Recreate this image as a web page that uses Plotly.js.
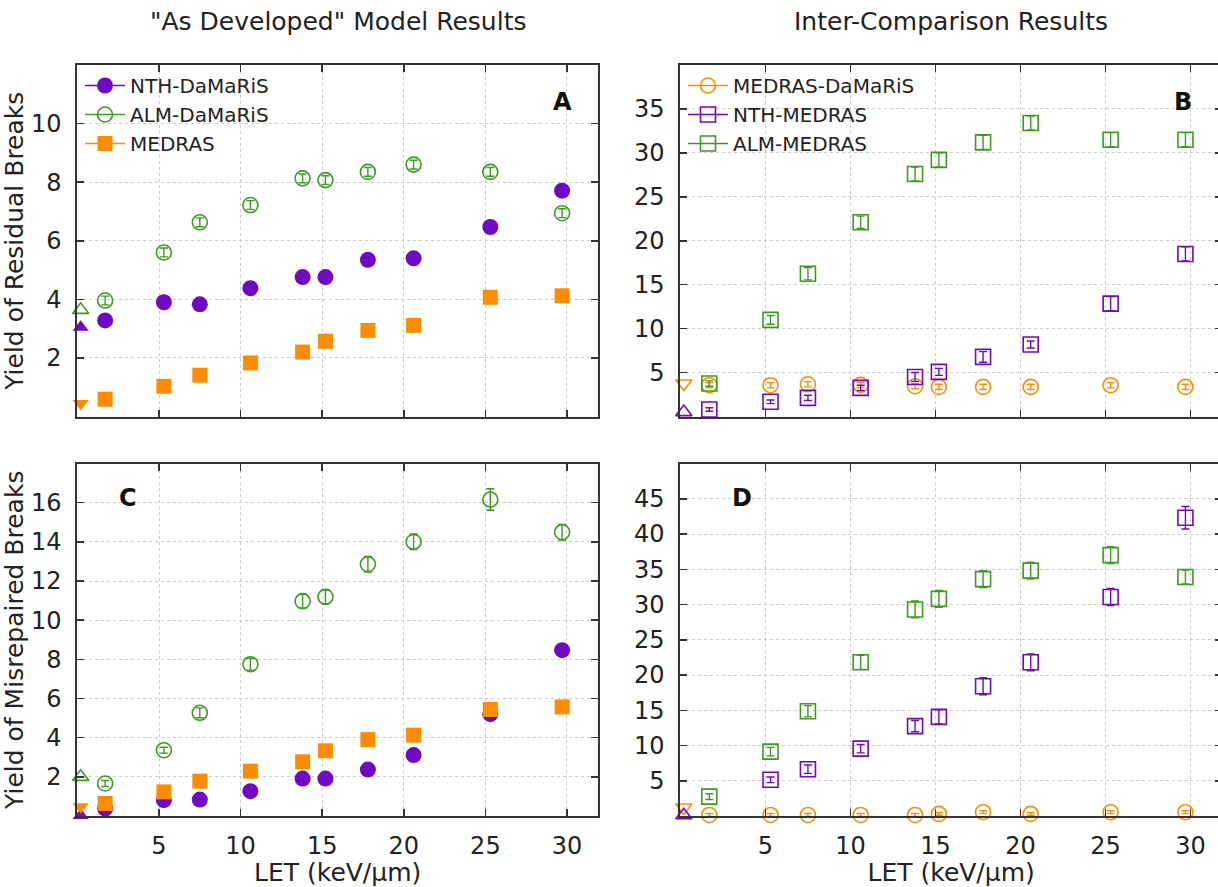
<!DOCTYPE html>
<html>
<head>
<meta charset="utf-8">
<script src="https://cdn.plot.ly/plotly-3.0.1.min.js"></script>
<style>
html,body{margin:0;padding:0;overflow:hidden;background:#fff;}
#chart{width:1230px;height:887px;}
</style>
</head>
<body>
<div id="chart"></div>
<script>
// ---------- data ----------
const LET = [1.7, 5.3, 7.5, 10.6, 13.8, 15.2, 17.8, 20.6, 25.3, 29.7];
const refLET = [0.2];

// Panel A: yield of residual breaks
const nthDamA = [3.28, 3.90, 3.83, 4.38, 4.76, 4.76, 5.35, 5.40, 6.47, 7.71];
const nthDamAErr = [0.08, 0.08, 0.08, 0.08, 0.08, 0.08, 0.08, 0.08, 0.08, 0.08];
const almDamA = [3.96, 5.60, 6.63, 7.22, 8.13, 8.07, 8.35, 8.60, 8.35, 6.94];
const almDamAErr = [0.15, 0.15, 0.15, 0.15, 0.15, 0.15, 0.15, 0.15, 0.15, 0.15];
const medrasA = [0.59, 1.03, 1.41, 1.83, 2.20, 2.57, 2.94, 3.11, 4.07, 4.12];
const medrasAErr = [0.05, 0.05, 0.05, 0.05, 0.05, 0.05, 0.05, 0.05, 0.05, 0.05];
const refA_nth = [3.05], refA_alm = [3.64], refA_med = [0.44];

// Panel B: inter-comparison residual breaks
const medDamB = [3.56, 3.56, 3.67, 3.60, 3.45, 3.37, 3.37, 3.37, 3.56, 3.37];
const medDamBErr = [0.3, 0.3, 0.3, 0.3, 0.3, 0.3, 0.3, 0.3, 0.3, 0.3];
const nthMedB = [0.80, 1.67, 2.12, 3.26, 4.50, 5.08, 6.78, 8.20, 12.84, 18.5];
const nthMedBErr = [0.2, 0.2, 0.3, 0.3, 0.5, 0.4, 0.6, 0.4, 0.8, 0.8];
const almMedB = [3.75, 11.0, 16.25, 22.1, 27.6, 29.2, 31.2, 33.4, 31.5, 31.5];
const almMedBErr = [0.3, 0.5, 0.7, 0.7, 0.8, 0.8, 0.8, 0.8, 0.8, 0.8];
const refB_med = [3.75], refB_nth = [0.5];

// Panel C: yield of misrepaired breaks
const nthDamC = [0.38, 0.81, 0.84, 1.27, 1.91, 1.91, 2.37, 3.11, 5.20, 8.47];
const nthDamCErr = [0.05, 0.05, 0.05, 0.05, 0.05, 0.05, 0.05, 0.05, 0.1, 0.1];
const almDamC = [1.66, 3.36, 5.27, 7.75, 10.97, 11.19, 12.86, 14.0, 16.16, 14.49];
const almDamCErr = [0.15, 0.15, 0.25, 0.3, 0.35, 0.35, 0.4, 0.4, 0.55, 0.4];
const medrasC = [0.64, 1.23, 1.78, 2.29, 2.77, 3.33, 3.90, 4.13, 5.44, 5.57];
const medrasCErr = [0.05, 0.05, 0.05, 0.05, 0.05, 0.05, 0.05, 0.05, 0.05, 0.05];
const refC_nth = [0.03], refC_alm = [2.0], refC_med = [0.47];

// Panel D: inter-comparison misrepaired breaks
const medDamD = [0.15, 0.15, 0.15, 0.15, 0.15, 0.30, 0.54, 0.30, 0.54, 0.54];
const medDamDErr = [0.2, 0.2, 0.2, 0.2, 0.2, 0.2, 0.2, 0.2, 0.2, 0.2];
const nthMedD = [null, 5.14, 6.64, 9.55, 12.75, 14.06, 18.4, 21.8, 31.06, 42.3];
const nthMedDErr = [0, 0.4, 0.6, 0.6, 0.8, 1.0, 1.2, 1.2, 1.2, 1.6];
const almMedD = [2.75, 9.13, 14.86, 21.8, 29.3, 30.8, 33.6, 34.8, 37.0, 33.9];
const almMedDErr = [0.4, 0.6, 0.8, 1.0, 1.2, 1.2, 1.2, 1.2, 1.2, 1.0];
const refD_med = [1.2], refD_nth = [0.1];

const xTicks = [5, 10, 15, 20, 25, 30];
const yTicksA = [2, 4, 6, 8, 10];
const yTicksB = [5, 10, 15, 20, 25, 30, 35];
const yTicksC = [2, 4, 6, 8, 10, 12, 14, 16];
const yTicksD = [5, 10, 15, 20, 25, 30, 35, 40, 45];

const legendA = ['NTH-DaMaRiS', 'ALM-DaMaRiS', 'MEDRAS'];
const legendB = ['MEDRAS-DaMaRiS', 'NTH-MEDRAS', 'ALM-MEDRAS'];

// ---------- style ----------
const PURPLE = '#7008c4', GREEN = '#3d9a22', ORANGE = '#ff8c00';
const FONT = 'DejaVu Sans, sans-serif';
const W = 1230, H = 887;
function dX(l, r) { return [l / W, r / W]; }
function dY(top, bottom) { return [(H - bottom) / H, (H - top) / H]; }

function pts(x, y, err, xa, ya, color, symbol, size) {
  const open = symbol.indexOf('open') >= 0;
  return {
    type: 'scatter', mode: 'markers', x: x, y: y, xaxis: xa, yaxis: ya,
    showlegend: false, cliponaxis: false,
    marker: { symbol: symbol, size: size, color: color, line: { color: color, width: open ? 1.6 : 0 } },
    error_y: err ? { type: 'data', array: err, visible: true, color: color, thickness: 1.4, width: 4 } : { visible: false }
  };
}
function leg(name, color, symbol, size, legendId) {
  const open = symbol.indexOf('open') >= 0;
  return {
    type: 'scatter', mode: 'lines+markers', x: [null], y: [null], name: name,
    xaxis: 'x', yaxis: 'y', legend: legendId, showlegend: true,
    line: { color: color, width: 1.6 },
    marker: { symbol: symbol, size: size, color: color, line: { color: color, width: open ? 1.6 : 0 } }
  };
}

const traces = [
  // Panel A
  pts(LET, nthDamA, nthDamAErr, 'x', 'y', PURPLE, 'circle', 16),
  pts(LET, almDamA, almDamAErr, 'x', 'y', GREEN, 'circle-open', 15),
  pts(LET, medrasA, medrasAErr, 'x', 'y', ORANGE, 'square', 15),
  pts(refLET, refA_nth, null, 'x', 'y', PURPLE, 'triangle-up', 14),
  pts(refLET, refA_alm, null, 'x', 'y', GREEN, 'triangle-up-open', 14),
  pts(refLET, refA_med, null, 'x', 'y', ORANGE, 'triangle-down', 14),
  // Panel B
  pts(LET, medDamB, medDamBErr, 'x2', 'y2', ORANGE, 'circle-open', 15),
  pts(LET, nthMedB, nthMedBErr, 'x2', 'y2', PURPLE, 'square-open', 15),
  pts(LET, almMedB, almMedBErr, 'x2', 'y2', GREEN, 'square-open', 15),
  pts(refLET, refB_med, null, 'x2', 'y2', ORANGE, 'triangle-down-open', 14),
  pts(refLET, refB_nth, null, 'x2', 'y2', PURPLE, 'triangle-up-open', 14),
  // Panel C
  pts(LET, nthDamC, nthDamCErr, 'x3', 'y3', PURPLE, 'circle', 16),
  pts(LET, almDamC, almDamCErr, 'x3', 'y3', GREEN, 'circle-open', 15),
  pts(LET, medrasC, medrasCErr, 'x3', 'y3', ORANGE, 'square', 15),
  pts(refLET, refC_nth, null, 'x3', 'y3', PURPLE, 'triangle-up', 14),
  pts(refLET, refC_alm, null, 'x3', 'y3', GREEN, 'triangle-up-open', 14),
  pts(refLET, refC_med, null, 'x3', 'y3', ORANGE, 'triangle-down', 14),
  // Panel D
  pts(LET, medDamD, medDamDErr, 'x4', 'y4', ORANGE, 'circle-open', 15),
  pts(LET, nthMedD, nthMedDErr, 'x4', 'y4', PURPLE, 'square-open', 15),
  pts(LET, almMedD, almMedDErr, 'x4', 'y4', GREEN, 'square-open', 15),
  pts(refLET, refD_med, null, 'x4', 'y4', ORANGE, 'triangle-down-open', 14),
  pts(refLET, refD_nth, null, 'x4', 'y4', PURPLE, 'triangle-up-open', 14),
  // legend entries
  leg(legendA[0], PURPLE, 'circle', 16, 'legend'),
  leg(legendA[1], GREEN, 'circle-open', 15, 'legend'),
  leg(legendA[2], ORANGE, 'square', 15, 'legend'),
  leg(legendB[0], ORANGE, 'circle-open', 15, 'legend2'),
  leg(legendB[1], PURPLE, 'square-open', 15, 'legend2'),
  leg(legendB[2], GREEN, 'square-open', 15, 'legend2')
];

function xAxis(domain, range, anchor, showLabels) {
  return {
    domain: domain, range: range, anchor: anchor, autorange: false,
    tickmode: 'array', tickvals: xTicks, ticktext: xTicks.map(String),
    showticklabels: showLabels, ticks: 'inside', ticklen: 7, tickwidth: 1.5, tickcolor: '#333',
    showline: true, linecolor: '#333', linewidth: 2, mirror: 'ticks',
    showgrid: true, gridcolor: '#cccccc', griddash: 'dot', gridwidth: 1,
    zeroline: false, ticklabelstandoff: 7,
    tickfont: { family: FONT, size: 24, color: '#222' },
    title: showLabels ? { text: 'LET (keV/µm)', font: { family: FONT, size: 25, color: '#222' }, standoff: 2 } : { text: '' }
  };
}
function yAxis(domain, range, anchor, ticks, title) {
  return {
    domain: domain, range: range, anchor: anchor, autorange: false,
    tickmode: 'array', tickvals: ticks, ticktext: ticks.map(String),
    ticks: 'inside', ticklen: 7, tickwidth: 1.5, tickcolor: '#333',
    showline: true, linecolor: '#333', linewidth: 2, mirror: 'ticks',
    showgrid: true, gridcolor: '#cccccc', griddash: 'dot', gridwidth: 1,
    zeroline: false, ticklabelstandoff: 9,
    tickfont: { family: FONT, size: 24, color: '#222' },
    title: title ? { text: title, font: { family: FONT, size: 25, color: '#222' }, standoff: 2 } : { text: '' }
  };
}

const layout = {
  width: W, height: H,
  margin: { l: 0, r: 0, t: 0, b: 0 },
  paper_bgcolor: '#fff', plot_bgcolor: '#fff',
  font: { family: FONT, color: '#222' },
  xaxis: xAxis(dX(77.4, 598), [0, 31.9], 'y', false),
  yaxis: yAxis(dY(65, 416.5), [0, 12], 'x', yTicksA, 'Yield of Residual Breaks'),
  xaxis2: xAxis(dX(680.4, 1222), [0, 31.85], 'y2', false),
  yaxis2: yAxis(dY(65, 416.5), [0, 40], 'x2', yTicksB, null),
  xaxis3: xAxis(dX(77.4, 598), [0, 31.9], 'y3', true),
  yaxis3: yAxis(dY(463.5, 816), [0, 18], 'x3', yTicksC, 'Yield of Misrepaired Breaks'),
  xaxis4: xAxis(dX(680.4, 1222), [0, 31.85], 'y4', true),
  yaxis4: yAxis(dY(463.5, 816), [0, 50], 'x4', yTicksD, null),
  legend: {
    x: 80 / W, y: (H - 66) / H, xanchor: 'left', yanchor: 'top',
    bgcolor: 'rgba(0,0,0,0)', font: { family: FONT, size: 20, color: '#222' },
    tracegroupgap: 0, itemwidth: 40
  },
  legend2: {
    x: 683 / W, y: (H - 66) / H, xanchor: 'left', yanchor: 'top',
    bgcolor: 'rgba(0,0,0,0)', font: { family: FONT, size: 20, color: '#222' },
    tracegroupgap: 0, itemwidth: 40
  },
  annotations: [
    { text: '"As Developed" Model Results', xref: 'paper', yref: 'paper', x: 338 / W, y: (H - 22) / H,
      xanchor: 'center', yanchor: 'middle', showarrow: false, font: { family: FONT, size: 25, color: '#222' } },
    { text: 'Inter-Comparison Results', xref: 'paper', yref: 'paper', x: 951 / W, y: (H - 22) / H,
      xanchor: 'center', yanchor: 'middle', showarrow: false, font: { family: FONT, size: 25, color: '#222' } },
    { text: '<b>A</b>', xref: 'x domain', yref: 'y domain', x: 0.931, y: 0.895, xanchor: 'center', yanchor: 'middle',
      showarrow: false, font: { family: FONT, size: 24, color: '#111' } },
    { text: '<b>B</b>', xref: 'x2 domain', yref: 'y2 domain', x: 0.928, y: 0.895, xanchor: 'center', yanchor: 'middle',
      showarrow: false, font: { family: FONT, size: 24, color: '#111' } },
    { text: '<b>C</b>', xref: 'x3 domain', yref: 'y3 domain', x: 0.097, y: 0.902, xanchor: 'center', yanchor: 'middle',
      showarrow: false, font: { family: FONT, size: 24, color: '#111' } },
    { text: '<b>D</b>', xref: 'x4 domain', yref: 'y4 domain', x: 0.114, y: 0.902, xanchor: 'center', yanchor: 'middle',
      showarrow: false, font: { family: FONT, size: 24, color: '#111' } }
  ]
};

Plotly.newPlot('chart', traces, layout, { displayModeBar: false, staticPlot: true });
</script>
</body>
</html>
